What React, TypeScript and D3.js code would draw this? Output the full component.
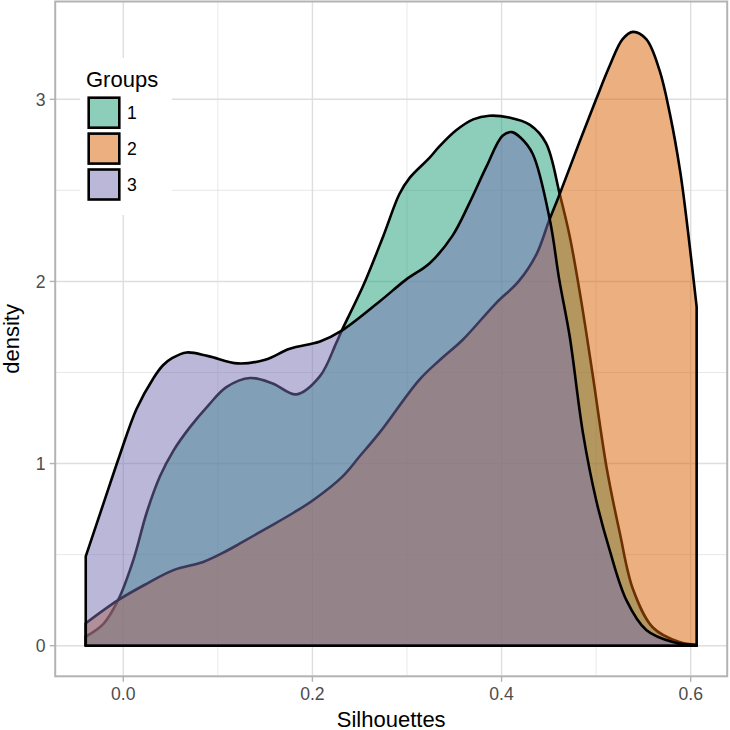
import React from "react";
import * as d3 from "d3";

// ---- data ----
const groups = ["1", "2", "3"];
const groupColors = ["#1B9E77", "#D95F02", "#7570B3"];

const g1Sil = [-0.0397, -0.021, -0.0055, 0.0106, 0.0247, 0.0388, 0.0529, 0.0705, 0.09, 0.109, 0.134, 0.158, 0.183, 0.208, 0.225, 0.231, 0.254, 0.275, 0.292, 0.303, 0.324, 0.334, 0.352, 0.37, 0.387, 0.408, 0.43, 0.447, 0.4615, 0.472, 0.484, 0.496, 0.511, 0.525, 0.539, 0.56, 0.588, 0.6063];
const g1Dens = [0.05, 0.12, 0.25, 0.47, 0.73, 0.93, 1.07, 1.2, 1.32, 1.42, 1.47, 1.44, 1.38, 1.48, 1.66, 1.73, 1.98, 2.25, 2.48, 2.57, 2.68, 2.74, 2.83, 2.89, 2.91, 2.9, 2.86, 2.76, 2.48, 2.25, 1.9, 1.5, 0.98, 0.62, 0.31, 0.1, 0.02, 0.005];

const g2Sil = [-0.0397, -0.0055, 0.0247, 0.053, 0.0845, 0.109, 0.123, 0.15, 0.18, 0.201, 0.232, 0.25, 0.271, 0.313, 0.335, 0.359, 0.394, 0.418, 0.437, 0.45, 0.4615, 0.482, 0.5, 0.514, 0.528, 0.539, 0.553, 0.567, 0.578, 0.589, 0.597, 0.6063];
const g2Dens = [0.123, 0.25, 0.34, 0.415, 0.46, 0.52, 0.56, 0.64, 0.73, 0.8, 0.93, 1.04, 1.17, 1.46, 1.57, 1.68, 1.88, 2.0, 2.15, 2.33, 2.48, 2.76, 3.0, 3.18, 3.33, 3.37, 3.33, 3.16, 2.92, 2.6, 2.28, 1.86];

const g3Sil = [-0.0397, -0.021, -0.0035, 0.014, 0.032, 0.042, 0.052, 0.067, 0.09, 0.121, 0.15, 0.176, 0.208, 0.231, 0.271, 0.299, 0.324, 0.348, 0.366, 0.384, 0.401, 0.411, 0.42, 0.433, 0.451, 0.461, 0.472, 0.486, 0.5, 0.514, 0.532, 0.553, 0.581, 0.6063];
const g3Dens = [0.49, 0.78, 1.05, 1.3, 1.47, 1.54, 1.58, 1.61, 1.59, 1.55, 1.57, 1.63, 1.67, 1.73, 1.89, 2.01, 2.1, 2.25, 2.43, 2.63, 2.8, 2.82, 2.79, 2.7, 2.34, 2.01, 1.7, 1.17, 0.8, 0.53, 0.25, 0.086, 0.02, 0.003];

const xTicks = [0.0, 0.2, 0.4, 0.6];
const xMinor = [0.1, 0.3, 0.5];
const yTicks = [0, 1, 2, 3];
const yMinor = [0.5, 1.5, 2.5];

const xTitle = "Silhouettes";
const yTitle = "density";
const legendTitle = "Groups";

export default function App() {
  const W = 730, H = 730;
  const pl = 55.2, pr = 727.2, pt = 1.5, pb = 676.3;
  const x = d3.scaleLinear().domain([-0.072, 0.6386]).range([pl, pr]);
  const y = d3.scaleLinear().domain([-0.168, 3.537]).range([pb, pt]);

  const series = [
    { sil: g1Sil, dens: g1Dens },
    { sil: g2Sil, dens: g2Dens },
    { sil: g3Sil, dens: g3Dens },
  ];

  const area = d3
    .area<[number, number]>()
    .x((d) => x(d[0]))
    .y0(y(0))
    .y1((d) => y(Math.max(0, d[1])))
    .curve(d3.curveCatmullRom.alpha(0.5));

  const font = "'Liberation Sans', Arial, Helvetica, sans-serif";
  const gridCol = "#DEDEDE";
  const axisCol = "#B3B3B3";
  const tickTextCol = "#4D4D4D";

  const keyTop = 97.7;
  const keyStep = 35.9;

  return (
    <svg
      width={W}
      height={H}
      style={{ position: "absolute", left: 0, top: 0, background: "#fff" }}
      fontFamily={font}
    >
      <rect x={0} y={0} width={W} height={H} fill="#fff" />
      {/* grid */}
      {xMinor.map((v) => (
        <line key={"xm" + v} x1={x(v)} x2={x(v)} y1={pt} y2={pb} stroke={gridCol} strokeWidth={0.7} />
      ))}
      {yMinor.map((v) => (
        <line key={"ym" + v} x1={pl} x2={pr} y1={y(v)} y2={y(v)} stroke={gridCol} strokeWidth={0.7} />
      ))}
      {xTicks.map((v) => (
        <line key={"xg" + v} x1={x(v)} x2={x(v)} y1={pt} y2={pb} stroke={gridCol} strokeWidth={1.4} />
      ))}
      {yTicks.map((v) => (
        <line key={"yg" + v} x1={pl} x2={pr} y1={y(v)} y2={y(v)} stroke={gridCol} strokeWidth={1.4} />
      ))}

      {/* densities */}
      {series.map((s, i) => {
        const pts: [number, number][] = s.sil.map((v, j) => [v, s.dens[j]]);
        return (
          <g key={"s" + i}>
            <path d={area(pts) || ""} fill={groupColors[i]} fillOpacity={0.5} stroke="none" />
            <path d={area(pts) || ""} fill="none" stroke="#000" strokeWidth={2.6} strokeLinejoin="round" />
          </g>
        );
      })}

      {/* panel border */}
      <rect x={pl} y={pt} width={pr - pl} height={pb - pt} fill="none" stroke={axisCol} strokeWidth={2} />

      {/* axes ticks & labels */}
      {xTicks.map((v) => (
        <g key={"xt" + v}>
          <line x1={x(v)} x2={x(v)} y1={pb} y2={pb + 5.5} stroke={axisCol} strokeWidth={1.4} />
          <text x={x(v)} y={700} textAnchor="middle" fontSize={17.6} fill={tickTextCol}>
            {d3.format(".1f")(v)}
          </text>
        </g>
      ))}
      {yTicks.map((v) => (
        <g key={"yt" + v}>
          <line x1={pl - 5.5} x2={pl} y1={y(v)} y2={y(v)} stroke={axisCol} strokeWidth={1.4} />
          <text x={45.5} y={y(v) + 6.3} textAnchor="end" fontSize={17.6} fill={tickTextCol}>
            {String(v)}
          </text>
        </g>
      ))}

      <text x={(pl + pr) / 2} y={726.5} textAnchor="middle" fontSize={22} fill="#000">
        {xTitle}
      </text>
      <text
        transform={`translate(18.5, ${(pt + pb) / 2}) rotate(-90)`}
        textAnchor="middle"
        fontSize={22}
        fill="#000"
      >
        {yTitle}
      </text>

      {/* legend */}
      <rect x={80} y={58} width={92} height={157} fill="#fff" />
      <text x={86} y={86.5} fontSize={22} fill="#000">
        {legendTitle}
      </text>
      {groups.map((g, i) => {
        const top = keyTop + i * keyStep;
        return (
          <g key={"lg" + g}>
            <rect x={88.7} y={top} width={30.6} height={30} fill={groupColors[i]} fillOpacity={0.5} stroke="#000" strokeWidth={2.6} />
            <text x={127} y={top + 15 + 6.3} fontSize={17.6} fill="#000">
              {g}
            </text>
          </g>
        );
      })}
    </svg>
  );
}
